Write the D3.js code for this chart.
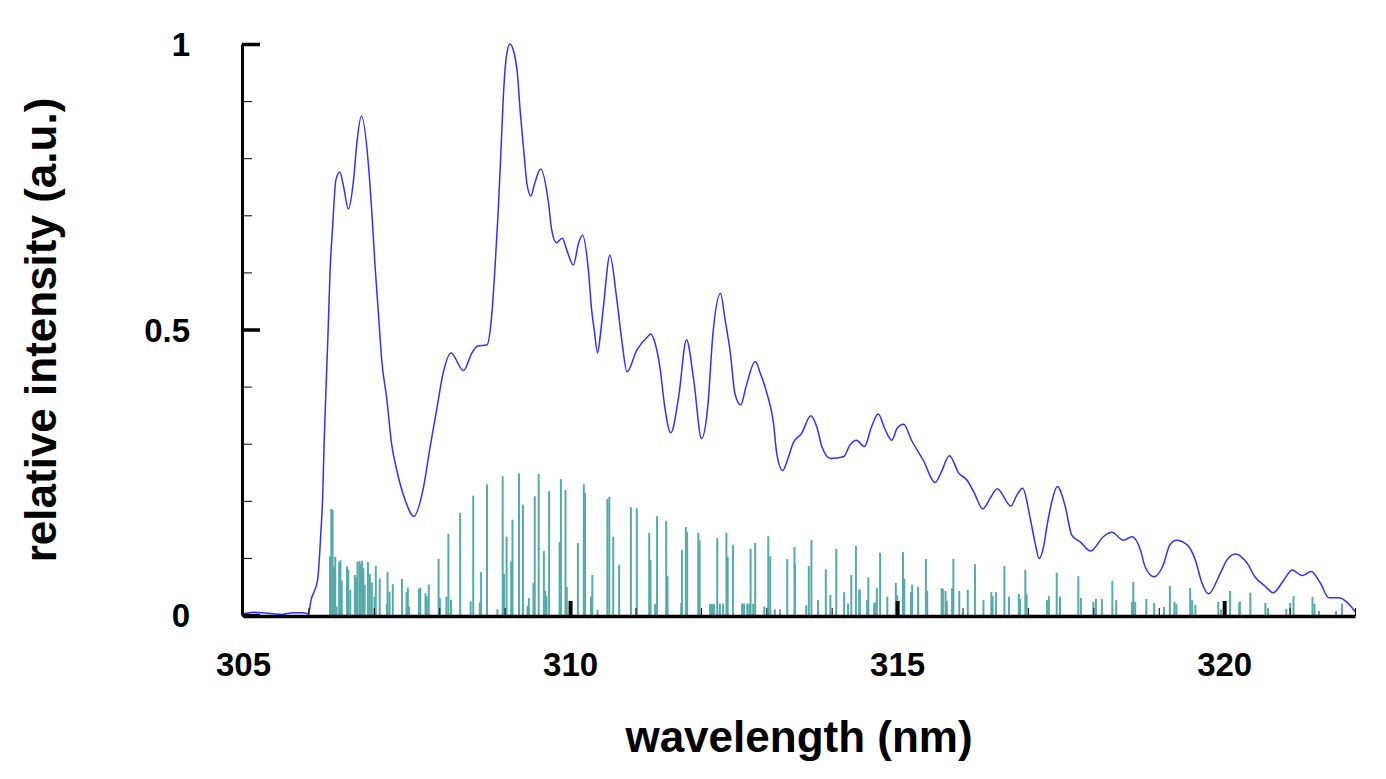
<!DOCTYPE html>
<html>
<head>
<meta charset="utf-8">
<title>relative intensity spectrum</title>
<script src="https://cdn.jsdelivr.net/npm/d3@7"></script>
<style>
  body { margin: 0; background: #fff; }
  svg { display: block; }
  .tickLabel { font-family: "Liberation Sans", Arial, sans-serif; font-weight: 700; font-size: 33px; fill: #000; }
  .axisTitle { font-family: "Liberation Sans", Arial, sans-serif; font-weight: 700; font-size: 44px; fill: #000; }
</style>
</head>
<body>
<script>

// simulated spectrum (blue curve)
let spectrumWl = [305.00, 305.15, 305.30, 305.46, 305.60, 305.76, 305.92, 306.00, 306.04, 306.14,
  306.19, 306.22, 306.24, 306.27, 306.30, 306.33, 306.37, 306.42, 306.48, 306.54,
  306.61, 306.69, 306.74, 306.81, 306.92, 306.97, 307.02, 307.07, 307.12, 307.20,
  307.27, 307.35, 307.48, 307.61, 307.76, 307.86, 307.96, 308.06, 308.18, 308.37,
  308.50, 308.59, 308.73, 308.80, 308.85, 308.90, 308.94, 308.98, 309.03, 309.08,
  309.14, 309.19, 309.24, 309.30, 309.34, 309.40, 309.46, 309.55, 309.67, 309.72,
  309.79, 309.88, 309.95, 310.05, 310.13, 310.19, 310.28, 310.33, 310.37, 310.42,
  310.46, 310.51, 310.61, 310.71, 310.79, 310.87, 311.02, 311.20, 311.23, 311.30,
  311.38, 311.44, 311.54, 311.66, 311.78, 311.89, 312.01, 312.11, 312.18, 312.30,
  312.37, 312.45, 312.52, 312.61, 312.69, 312.83, 312.91, 313.01, 313.11, 313.16,
  313.25, 313.34, 313.41, 313.54, 313.68, 313.77, 313.85, 313.98, 314.18, 314.28,
  314.38, 314.50, 314.61, 314.71, 314.82, 314.92, 315.00, 315.10, 315.22, 315.40,
  315.58, 315.67, 315.80, 315.94, 316.07, 316.17, 316.31, 316.42, 316.53, 316.74,
  316.83, 316.92, 317.03, 317.11, 317.17, 317.24, 317.29, 317.37, 317.45, 317.57,
  317.67, 317.80, 317.96, 318.15, 318.28, 318.46, 318.59, 318.72, 318.79, 318.93,
  319.07, 319.17, 319.27, 319.45, 319.56, 319.66, 319.76, 319.94, 320.04, 320.17,
  320.35, 320.47, 320.63, 320.75, 320.91, 321.04, 321.19, 321.33, 321.47, 321.60,
  321.75, 321.88, 322.00];
let spectrumInt = [0.002, 0.005, 0.004, 0.002, 0.001, 0.004, 0.004, 0.002, 0.026, 0.061,
  0.144, 0.214, 0.301, 0.399, 0.494, 0.599, 0.680, 0.762, 0.776, 0.749,
  0.711, 0.762, 0.826, 0.874, 0.785, 0.704, 0.609, 0.529, 0.447, 0.377,
  0.301, 0.254, 0.201, 0.173, 0.224, 0.294, 0.359, 0.424, 0.459, 0.428,
  0.459, 0.471, 0.473, 0.522, 0.604, 0.704, 0.803, 0.908, 0.981, 1.000,
  0.986, 0.954, 0.879, 0.803, 0.756, 0.734, 0.756, 0.781, 0.722, 0.674,
  0.652, 0.660, 0.639, 0.613, 0.651, 0.665, 0.604, 0.534, 0.499, 0.459,
  0.487, 0.540, 0.630, 0.557, 0.482, 0.426, 0.464, 0.489, 0.492, 0.476,
  0.429, 0.371, 0.319, 0.382, 0.482, 0.412, 0.309, 0.371, 0.487, 0.563,
  0.517, 0.459, 0.388, 0.368, 0.400, 0.444, 0.423, 0.388, 0.336, 0.283,
  0.253, 0.277, 0.301, 0.318, 0.349, 0.330, 0.295, 0.274, 0.277, 0.298,
  0.306, 0.295, 0.330, 0.352, 0.324, 0.306, 0.327, 0.334, 0.306, 0.271,
  0.232, 0.249, 0.279, 0.249, 0.236, 0.216, 0.186, 0.204, 0.221, 0.191,
  0.210, 0.222, 0.172, 0.126, 0.099, 0.120, 0.155, 0.201, 0.225, 0.190,
  0.140, 0.128, 0.112, 0.137, 0.145, 0.131, 0.137, 0.114, 0.085, 0.067,
  0.088, 0.123, 0.131, 0.121, 0.096, 0.056, 0.037, 0.073, 0.096, 0.107,
  0.091, 0.067, 0.050, 0.039, 0.061, 0.079, 0.069, 0.076, 0.056, 0.030,
  0.030, 0.022, 0.006];

// individual transition lines (teal sticks)
let lineWl = [306.33, 306.35, 306.37, 306.39, 306.41, 306.43, 306.47, 306.49, 306.51, 306.59,
  306.61, 306.64, 306.71, 306.73, 306.75, 306.78, 306.80, 306.82, 306.84, 306.86,
  306.91, 306.94, 306.97, 307.01, 307.03, 307.09, 307.20, 307.21, 307.24, 307.29,
  307.43, 307.50, 307.52, 307.54, 307.69, 307.71, 307.79, 307.81, 307.84, 307.99,
  308.01, 308.11, 308.14, 308.18, 308.32, 308.48, 308.52, 308.62, 308.64, 308.73,
  308.89, 308.97, 308.99, 309.03, 309.10, 309.12, 309.22, 309.28, 309.35, 309.37,
  309.44, 309.46, 309.52, 309.60, 309.62, 309.64, 309.68, 309.84, 309.86, 309.93,
  309.95, 310.12, 310.21, 310.23, 310.32, 310.34, 310.42, 310.57, 310.60, 310.66,
  310.75, 310.93, 311.02, 311.21, 311.23, 311.30, 311.33, 311.47, 311.49, 311.70,
  311.71, 311.77, 311.79, 311.96, 311.98, 312.14, 312.17, 312.20, 312.25, 312.29,
  312.34, 312.39, 312.41, 312.49, 312.63, 312.66, 312.71, 312.74, 312.76, 312.80,
  312.83, 312.97, 313.03, 313.06, 313.13, 313.21, 313.32, 313.43, 313.44, 313.61,
  313.65, 313.69, 313.79, 313.91, 313.98, 314.07, 314.19, 314.25, 314.30, 314.37,
  314.42, 314.43, 314.54, 314.56, 314.65, 314.66, 314.69, 314.74, 314.85, 314.98,
  315.00, 315.09, 315.11, 315.21, 315.23, 315.32, 315.44, 315.46, 315.68, 315.70,
  315.74, 315.76, 315.84, 315.86, 315.95, 316.08, 316.19, 316.32, 316.44, 316.46,
  316.51, 316.64, 316.71, 316.86, 316.88, 316.96, 316.98, 317.29, 317.32, 317.44,
  317.49, 317.77, 317.81, 318.00, 318.04, 318.13, 318.29, 318.35, 318.59, 318.61,
  318.64, 318.81, 318.93, 319.08, 319.17, 319.24, 319.27, 319.48, 319.51, 319.56,
  319.91, 319.95, 320.09, 320.23, 320.24, 320.40, 320.63, 320.67, 320.95, 321.01,
  321.06, 321.35, 321.38, 321.45, 321.71, 321.80];
let lineInt = [0.103, 0.186, 0.184, 0.085, 0.102, 0.015, 0.093, 0.096, 0.060, 0.085,
  0.079, 0.044, 0.070, 0.066, 0.093, 0.095, 0.090, 0.095, 0.082, 0.053,
  0.093, 0.072, 0.057, 0.032, 0.086, 0.064, 0.020, 0.075, 0.041, 0.054,
  0.063, 0.040, 0.048, 0.015, 0.046, 0.048, 0.038, 0.033, 0.053, 0.098,
  0.030, 0.032, 0.142, 0.027, 0.179, 0.024, 0.209, 0.022, 0.075, 0.229,
  0.010, 0.243, 0.072, 0.137, 0.094, 0.167, 0.248, 0.193, 0.016, 0.030,
  0.056, 0.208, 0.247, 0.112, 0.042, 0.033, 0.217, 0.128, 0.238, 0.219,
  0.049, 0.126, 0.229, 0.214, 0.032, 0.070, 0.009, 0.203, 0.207, 0.137,
  0.088, 0.189, 0.187, 0.144, 0.096, 0.019, 0.173, 0.165, 0.068, 0.021,
  0.114, 0.154, 0.145, 0.144, 0.131, 0.019, 0.019, 0.019, 0.135, 0.020,
  0.020, 0.144, 0.102, 0.123, 0.020, 0.020, 0.020, 0.020, 0.116, 0.020,
  0.126, 0.015, 0.138, 0.103, 0.010, 0.010, 0.098, 0.119, 0.089, 0.017,
  0.086, 0.131, 0.026, 0.080, 0.035, 0.116, 0.040, 0.020, 0.070, 0.121,
  0.044, 0.045, 0.026, 0.066, 0.020, 0.022, 0.047, 0.109, 0.032, 0.056,
  0.035, 0.110, 0.063, 0.040, 0.053, 0.049, 0.098, 0.042, 0.047, 0.046,
  0.042, 0.025, 0.047, 0.098, 0.042, 0.044, 0.089, 0.026, 0.040, 0.033,
  0.040, 0.086, 0.032, 0.037, 0.028, 0.079, 0.037, 0.026, 0.033, 0.074,
  0.032, 0.068, 0.030, 0.023, 0.028, 0.028, 0.060, 0.026, 0.023, 0.058,
  0.023, 0.028, 0.021, 0.014, 0.051, 0.023, 0.019, 0.047, 0.026, 0.018,
  0.023, 0.010, 0.042, 0.021, 0.024, 0.039, 0.021, 0.012, 0.011, 0.021,
  0.033, 0.032, 0.020, 0.007, 0.007, 0.020];

// ticks and labels
let xMajorTicks = [305, 310, 315, 320];
let xMinorTicks = [306, 307, 308, 309, 310, 311, 312, 313, 314, 315, 316, 317, 318, 319, 320, 321, 322];
let yMajorTicks = [0, 0.5, 1];
let yMinorTicks = [0, 0.1, 0.2, 0.3, 0.4, 0.5, 0.6, 0.7, 0.8, 0.9, 1];
let yTickLabels = ['0', '0.5', '1'];
let xTitle = 'wavelength (nm)';
let yTitle = 'relative intensity (a.u.)';

let width = 1386;
let height = 779;

let svg = d3.select('body')
  .append('svg')
  .attr('width', width)
  .attr('height', height);

// scales
let x = d3.scaleLinear()
  .domain([305, 322])
  .range([243, 1355]);

let y = d3.scaleLinear()
  .domain([0, 1])
  .range([615, 44]);

// teal sticks
svg.append('g')
  .selectAll('line')
  .data(lineWl)
  .enter()
  .append('line')
  .attr('x1', function(d) { return x(d); })
  .attr('x2', function(d) { return x(d); })
  .attr('y1', y(0))
  .attr('y2', function(d, i) { return y(lineInt[i]); })
  .attr('stroke', '#56aba9')
  .attr('stroke-width', 2);

// blue spectrum
let line = d3.line()
  .x(function(d) { return x(d); })
  .y(function(d, i) { return y(spectrumInt[i]); })
  .curve(d3.curveMonotoneX);

svg.append('path')
  .datum(spectrumWl)
  .attr('d', line)
  .attr('fill', 'none')
  .attr('stroke', '#3131ff')
  .attr('stroke-width', 1.5);

// x axis: minor ticks pointing up
svg.append('g')
  .attr('transform', 'translate(0,616)')
  .call(d3.axisBottom(x).tickValues(xMinorTicks).tickSizeInner(-8).tickSizeOuter(0).tickFormat(''))
  .call(function(g) {
    g.select('.domain').remove();
    g.selectAll('.tick line').attr('stroke', '#000').attr('stroke-width', 1);
  });

// x axis: major ticks and labels (no tick mark where it meets the y axis)
svg.append('g')
  .attr('transform', 'translate(0,616)')
  .call(d3.axisBottom(x).tickValues(xMajorTicks).tickSizeInner(-15).tickSizeOuter(0).tickPadding(37).tickFormat(d3.format('d')))
  .call(function(g) {
    g.select('.domain').attr('stroke', '#000').attr('stroke-width', 3.5);
    g.selectAll('.tick line')
      .attr('stroke', '#000')
      .attr('stroke-width', 4)
      .style('display', function(d) { return d === 305 ? 'none' : null; });
    g.selectAll('.tick text').attr('class', 'tickLabel').attr('font-family', null).attr('font-size', null);
  });

// y axis: minor ticks pointing right
svg.append('g')
  .attr('transform', 'translate(242,0)')
  .call(d3.axisLeft(y).tickValues(yMinorTicks).tickSizeInner(-10).tickSizeOuter(0).tickFormat(''))
  .call(function(g) {
    g.select('.domain').remove();
    g.selectAll('.tick line').attr('stroke', '#000').attr('stroke-width', 1);
  });

// y axis: major ticks and labels
svg.append('g')
  .attr('transform', 'translate(242,0)')
  .call(d3.axisLeft(y).tickValues(yMajorTicks).tickSizeInner(-18).tickSizeOuter(0).tickPadding(52)
    .tickFormat(function(d, i) { return yTickLabels[i]; }))
  .call(function(g) {
    g.select('.domain').attr('stroke', '#000').attr('stroke-width', 3);
    g.selectAll('.tick line').attr('stroke', '#000').attr('stroke-width', 3.5);
    g.selectAll('.tick text').attr('class', 'tickLabel').attr('font-family', null).attr('font-size', null).attr('dy', '0.36em');
  });

// x label
svg.append('text')
  .attr('class', 'axisTitle')
  .style('text-anchor', 'middle')
  .attr('transform', 'translate(799,752)')
  .text(xTitle);

// y label
svg.append('text')
  .attr('class', 'axisTitle')
  .style('text-anchor', 'middle')
  .attr('transform', 'translate(56,330)rotate(-90)')
  .text(yTitle);

</script>
</body>
</html>
